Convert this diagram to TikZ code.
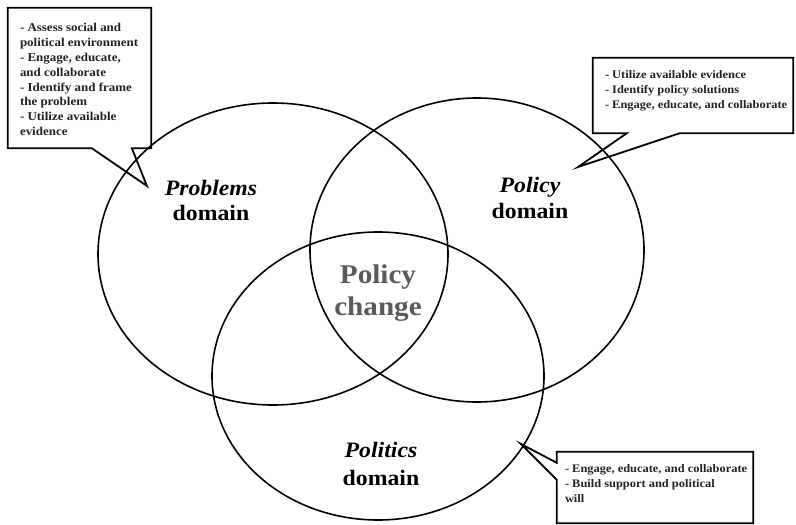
\documentclass[tikz,border=0pt]{standalone}
\usepackage{fontspec}
\setmainfont{Liberation Serif}[FakeStretch=1.08]
\usetikzlibrary{shapes.geometric,calc}
\definecolor{txt}{HTML}{222222}
\definecolor{mid}{HTML}{5A5A5A}
\begin{document}
\begin{tikzpicture}[x=1pt,y=-1pt,
  ell/.style={ellipse, draw=black, line width=1.6pt, inner sep=0pt},
  geom/.style={rectangle, inner sep=0pt, draw=none},
  callout/.style={draw=black, line width=1.8pt, fill=white, line join=miter},
  boxtext/.style={anchor=north west, inner sep=0pt, align=left, text=txt, font=\bfseries\fontsize{11.5}{15}\selectfont},
  dom/.style={anchor=base, inner sep=0pt, font=\bfseries\fontsize{22}{25}\selectfont},
  chg/.style={anchor=base, inner sep=0pt, text=mid, font=\bfseries\fontsize{27}{32}\selectfont}]
\useasboundingbox (0,0) rectangle (796,525);

% callout 1 (top left)
\node[geom, minimum width=143pt, minimum height=140pt] (b1) at (79.5,78) {};
\coordinate (t1) at (147,186);
\draw[callout] (b1.north west) -- (b1.north east) -- (b1.south east)
  -- ($(b1.south west)+(124,0)$) -- (t1) -- ($(b1.south west)+(84,0)$)
  -- (b1.south west) -- cycle;
\node[boxtext, font=\bfseries\fontsize{12}{14.8}\selectfont] (b1t) at ($(b1.north west)+(12,15.5)$)
  {- Assess social and\\political environment\\- Engage, educate,\\and collaborate\\- Identify and frame\\the problem\\- Utilize available\\evidence};

% callout 2 (top right)
\node[geom, minimum width=200pt, minimum height=75pt] (b2) at (693,95.5) {};
\coordinate (t2) at (578,167);
\draw[callout] (b2.north west) -- (b2.north east) -- (b2.south east)
  -- ($(b2.south west)+(87,0)$) -- (t2) -- ($(b2.south west)+(34,0)$)
  -- (b2.south west) -- cycle;
\node[boxtext] (b2t) at ($(b2.north west)+(12,13)$)
  {- Utilize available evidence\\- Identify policy solutions\\- Engage, educate, and collaborate};

% callout 3 (bottom right)
\node[geom, minimum width=196pt, minimum height=71pt] (b3) at (655,487.5) {};
\coordinate (t3) at (521,444);
\draw[callout] (b3.north west) -- (b3.north east) -- (b3.south east)
  -- (b3.south west) -- ($(b3.north west)+(0,28)$) -- (t3)
  -- ($(b3.north west)+(0,11)$) -- cycle;
\node[boxtext] (b3t) at ($(b3.north west)+(8,13)$)
  {- Engage, educate, and collaborate\\- Build support and political\\will};

% ellipses
\node[ell, minimum width=350pt, minimum height=302pt] (eprob) at (273,254) {};
\node[ell, minimum width=334pt, minimum height=304pt] (epol) at (477,250) {};
\node[ell, minimum width=332pt, minimum height=288pt] (epolit) at (378,376) {};

% labels
\node[dom] (l1a) at (211,195) {\itshape Problems};
\node[dom] (l1b) at (211,220) {domain};
\node[dom] (l2a) at (530,192) {\itshape Policy};
\node[dom] (l2b) at (530,218) {domain};
\node[dom] (l3a) at (381,457) {\itshape Politics};
\node[dom] (l3b) at (381,485) {domain};
\node[chg] (c1) at (378,283) {Policy};
\node[chg] (c2) at (378,315) {change};
\end{tikzpicture}
\end{document}
